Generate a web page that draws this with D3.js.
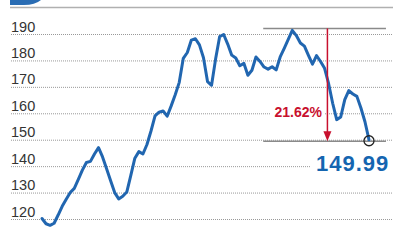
<!DOCTYPE html>
<html>
<head>
<meta charset="utf-8">
<script src="https://cdn.jsdelivr.net/npm/d3@7"></script>
<style>
  body { margin: 0; background: #fff; }
  svg { display: block; }
  .grid .tick line { stroke: #999; stroke-dasharray: 1 1; }
  .grid .tick text { font-family: "Liberation Sans", Arial, sans-serif; font-size: 14.5px; fill: #333; }
</style>
</head>
<body>
<svg id="chart" width="400" height="240"></svg>
<script>
// weekly closing prices
const prices = [
  120.2, 118.2, 117.6, 118.4, 121.5, 124.8, 127.5, 130.0, 131.6, 135.0,
  138.5, 141.4, 141.8, 144.6, 147.0, 143.5, 139.0, 134.5, 130.0, 127.6,
  128.6, 130.2, 136.5, 143.0, 145.5, 144.6, 148.2, 153.3, 159.0, 160.4,
  160.9, 158.9, 162.8, 167.0, 171.7, 180.8, 183.0, 187.7, 188.2, 185.9,
  181.0, 172.0, 170.6, 180.5, 189.0, 189.8, 186.2, 182.0, 180.9, 178.0,
  178.9, 174.4, 176.3, 181.3, 179.6, 177.5, 176.7, 177.6, 176.4, 181.3,
  184.6, 188.0, 191.36, 189.4, 186.6, 185.4, 181.9, 178.6, 181.8, 179.6,
  177.0, 171.2, 163.8, 157.6, 158.6, 165.2, 168.6, 167.3, 166.4, 162.0,
  156.8, 149.99
];
const yTicks = [120, 130, 140, 150, 160, 170, 180, 190];
const dropLabel = '21.62%';
const lastLabel = '149.99';

const svg = d3.select('#chart');

const x = d3.scaleLinear()
  .domain([0, prices.length - 1])
  .range([42, 369]);

const y = d3.scaleLinear()
  .domain([120, 190])
  .range([219, 34]);

// top decoration
svg.append('path')
  .attr('d', 'M10,0 H41 Q35,5 24,5 H10 Z')
  .attr('fill', '#2a6db4');
svg.append('line')
  .attr('x1', 10).attr('x2', 393)
  .attr('y1', 7.5).attr('y2', 7.5)
  .attr('stroke', '#b0b0b0')
  .attr('stroke-width', 1.5);

// grid + labels
const grid = svg.append('g')
  .attr('class', 'grid')
  .attr('transform', 'translate(11,0)')
  .call(d3.axisRight(y).tickValues(yTicks).tickSize(382).tickFormat(d3.format('d')));
grid.select('.domain').remove();
grid.selectAll('.tick text')
  .attr('x', 0)
  .attr('dy', '-0.2em')
  .style('text-anchor', 'start');

const peak = d3.max(prices);
const last = prices[prices.length - 1];
const lastIndex = prices.length - 1;
const bandStart = 54.8;
const bandEnd = 85.2;
const arrowIndex = 70.7;

// label backgrounds (hide gridlines)
svg.append('rect')
  .attr('x', 270).attr('y', 104).attr('width', 55).attr('height', 16)
  .attr('fill', '#fff');
svg.append('rect')
  .attr('x', 311).attr('y', 152).attr('width', 89).attr('height', 22)
  .attr('fill', '#fff');

// peak / last reference lines
const peakY = y(peak) - 2;
const lastY = y(last) + 1.5;
[peakY, lastY].forEach(v => {
  svg.append('line')
    .attr('x1', x(bandStart)).attr('x2', x(bandEnd))
    .attr('y1', v).attr('y2', v)
    .attr('stroke', '#8a8a8a')
    .attr('stroke-width', 1.5);
});

// price line
svg.append('path')
  .datum(prices)
  .attr('fill', 'none')
  .attr('stroke', '#2166b0')
  .attr('stroke-width', 3)
  .attr('stroke-linejoin', 'round')
  .attr('stroke-linecap', 'round')
  .attr('d', d3.line().x((d, i) => x(i)).y(d => y(d)));

// drop arrow
const ax = x(arrowIndex);
svg.append('line')
  .attr('x1', ax).attr('x2', ax)
  .attr('y1', peakY).attr('y2', lastY - 9)
  .attr('stroke', '#c8102e')
  .attr('stroke-width', 1.5);
svg.append('path')
  .attr('d', `M${ax - 4},${lastY - 10} L${ax + 4},${lastY - 10} L${ax},${lastY} Z`)
  .attr('fill', '#c8102e');

svg.append('text')
  .attr('x', 322).attr('y', 117)
  .attr('text-anchor', 'end')
  .style('font-family', '"Liberation Sans", Arial, sans-serif')
  .style('font-weight', 'bold')
  .style('font-size', '14px')
  .style('fill', '#c8102e')
  .text(dropLabel);

// last value marker
svg.append('circle')
  .attr('cx', x(lastIndex)).attr('cy', y(last) + 1)
  .attr('r', 5)
  .attr('fill', 'none')
  .attr('stroke', '#222')
  .attr('stroke-width', 1.3);

svg.append('text')
  .attr('x', 316).attr('y', 171)
  .style('font-family', '"Liberation Sans", Arial, sans-serif')
  .style('font-weight', 'bold')
  .style('font-size', '22px')
  .style('letter-spacing', '1px')
  .style('fill', '#1565b0')
  .text(lastLabel);
</script>
</body>
</html>
